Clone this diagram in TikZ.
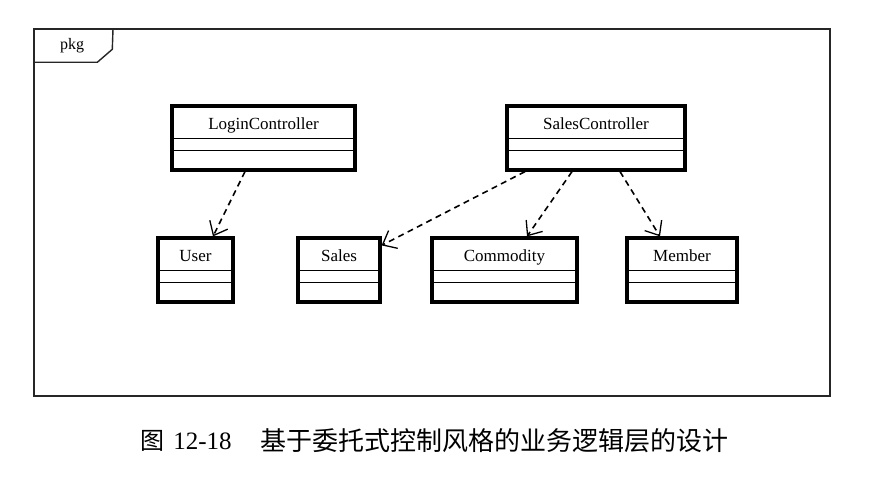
\documentclass[tikz,border=0pt]{standalone}
\usepackage{fontspec}
\setmainfont{Liberation Serif}
\newfontfamily\cjk{Noto Sans CJK SC}
\usetikzlibrary{arrows.meta}

\tikzset{
    classbox/.style={rectangle, draw, line width=3.2pt, inner sep=0pt, minimum height=64pt},
    classname/.style={font=\fontsize{17}{19}\selectfont},
    depends/.style={draw, line width=1.6pt, dash pattern=on 6pt off 4.5pt,
        -{Straight Barb[length=12pt,width=20pt,line width=1.3pt]}}
}

\begin{document}
\begin{tikzpicture}[x=1pt,y=-1pt]
            \useasboundingbox (0,0) rectangle (892,484);

            % package frame
            \node[draw, line width=1.4pt, color=black!85, inner sep=0pt,
                minimum width=796pt, minimum height=367pt] (pkgframe) at (432,212.5) {};
            \draw[line width=1.4pt, color=black!85] ([yshift=-34pt]pkgframe.north west)
                -- ++(64,0) -- ++(15,-13) -- (113,29);
            \node[font=\fontsize{16}{18}\selectfont] (pkgname) at (72,46) {pkg};

            \begin{scope}[every node/.style={classbox}]

                \node[minimum width=183pt] (login) at (263.5,138) {};
                \node[minimum width=178pt] (salesctl) at (596,138) {};
                \node[minimum width=75pt] (user) at (195.5,270) {};
                \node[minimum width=82pt] (sales) at (339,270) {};
                \node[minimum width=145pt] (commodity) at (504.5,270) {};
                \node[minimum width=110pt] (member) at (682,270) {};

            \end{scope}

            % compartments
            \foreach \c in {login,salesctl,user,sales,commodity,member} {
                \draw[line width=1.2pt] ([yshift=-34pt]\c.north west) -- ([yshift=-34pt]\c.north east);
                \draw[line width=1.2pt] ([yshift=-46pt]\c.north west) -- ([yshift=-46pt]\c.north east);
            }

            \begin{scope}[every node/.style={classname, text height=12pt, text depth=3pt}]

                \node (login-name) at ([yshift=-20.5pt]login.north) {LoginController};
                \node (salesctl-name) at ([yshift=-20.5pt]salesctl.north) {SalesController};
                \node (user-name) at ([yshift=-20.5pt]user.north) {User};
                \node (sales-name) at ([yshift=-20.5pt]sales.north) {Sales};
                \node (commodity-name) at ([yshift=-20.5pt]commodity.north) {Commodity};
                \node (member-name) at ([yshift=-20.5pt]member.north) {Member};

            \end{scope}

            \path[depends] ([xshift=-18.5pt]login.south) -- ([xshift=17.5pt]user.north);
            \path[depends] ([xshift=-71pt]salesctl.south) -- ([yshift=-9pt]sales.north east);
            \path[depends] ([xshift=-24pt]salesctl.south) -- ([xshift=22.5pt]commodity.north);
            \path[depends] ([xshift=24pt]salesctl.south) -- ([xshift=-22pt]member.north);

            % caption
            \node[font=\cjk\fontsize{24}{26}\selectfont] (fig) at (152,441) {图};
            \node[font=\fontsize{25}{28}\selectfont] (fignum) at (202.5,441) {12-18};
            \node[font=\cjk\fontsize{26}{28}\selectfont] (caption) at (494,441) {基于委托式控制风格的业务逻辑层的设计};
        \end{tikzpicture}
\end{document}
